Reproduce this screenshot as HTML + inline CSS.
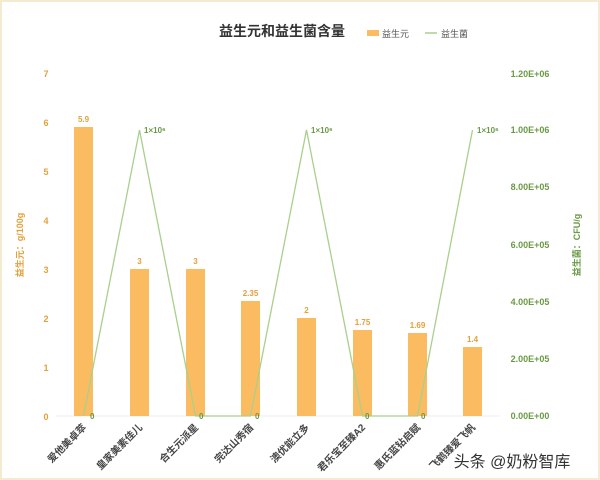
<!DOCTYPE html>
<html><head><meta charset="utf-8"><style>
html,body{margin:0;padding:0;background:#fff}
svg{display:block}
text{font-family:"Liberation Sans","Noto Sans CJK SC",sans-serif}
</style></head><body>
<svg width="600" height="480" viewBox="0 0 600 480">
<rect x="1" y="1" width="598" height="478" fill="#fff" stroke="#f3ead0" stroke-width="2"/>
<text x="282" y="36" font-size="14" font-weight="bold" fill="#333" text-anchor="middle">益生元和益生菌含量</text>
<rect x="367" y="30" width="12" height="6" fill="#fbbc61"/>
<text x="382" y="37" font-size="9" fill="#555">益生元</text>
<line x1="425" y1="33" x2="437" y2="33" stroke="#a8d08d" stroke-width="1.5"/>
<text x="441" y="37" font-size="9" fill="#555">益生菌</text>
<g font-size="9" font-weight="bold" fill="#e2a13c" text-anchor="middle">
<text x="46" y="77">7</text><text x="46" y="126">6</text><text x="46" y="175">5</text><text x="46" y="224">4</text><text x="46" y="273">3</text><text x="46" y="322">2</text><text x="46" y="371">1</text><text x="46" y="420">0</text>
</g>
<text transform="translate(23,245) rotate(-90)" font-size="9" font-weight="bold" fill="#e2a13c" text-anchor="middle">益生元：g/100g</text>
<g font-size="9" font-weight="bold" fill="#6a9a45" text-anchor="middle">
<text x="530" y="77">1.20E+06</text><text x="530" y="133">1.00E+06</text><text x="530" y="190">8.00E+05</text><text x="530" y="248">6.00E+05</text><text x="530" y="305">4.00E+05</text><text x="530" y="362">2.00E+05</text><text x="530" y="419">0.00E+00</text>
</g>
<text transform="translate(580,245) rotate(-90)" font-size="9" font-weight="bold" fill="#6a9a45" text-anchor="middle">益生菌：CFU/g</text>
<line x1="56" y1="416" x2="500" y2="416" stroke="#eee"/>
<g fill="#fbbc61">
<rect x="74" y="127" width="19" height="289"/>
<rect x="130" y="269" width="19" height="147"/>
<rect x="186" y="269" width="19" height="147"/>
<rect x="241" y="301" width="19" height="115"/>
<rect x="297" y="318" width="19" height="98"/>
<rect x="353" y="330" width="19" height="86"/>
<rect x="408" y="333" width="19" height="83"/>
<rect x="463" y="347" width="19" height="69"/>
</g>
<g font-size="8" font-weight="bold" fill="#e2a13c" text-anchor="middle">
<text x="83.5" y="122">5.9</text><text x="139.5" y="264">3</text><text x="195.5" y="264">3</text><text x="250.5" y="296">2.35</text><text x="306.5" y="313">2</text><text x="362.5" y="325">1.75</text><text x="417.5" y="328">1.69</text><text x="472.5" y="342">1.4</text>
</g>
<polyline points="83.5,416 139.5,130 195.5,416 250.5,416 306.5,130 362.5,416 417.5,416 472.5,130" fill="none" stroke="#a8d08d" stroke-width="1.3"/>
<g font-size="8" font-weight="bold" fill="#6a9a45">
<text x="90" y="419">0</text><text x="199" y="419">0</text><text x="255" y="419">0</text><text x="365" y="419">0</text><text x="421" y="419">0</text>
<text x="144" y="133">1×10⁶</text><text x="311" y="133">1×10⁶</text><text x="477" y="133">1×10⁶</text>
</g>
<g font-size="10" font-weight="bold" fill="#444" text-anchor="end">
<text transform="translate(87,428) rotate(-45)">爱他美卓萃</text>
<text transform="translate(143,428) rotate(-45)">皇家美素佳儿</text>
<text transform="translate(199,428) rotate(-45)">合生元派星</text>
<text transform="translate(254,428) rotate(-45)">完达山秀宿</text>
<text transform="translate(310,428) rotate(-45)">澳优能立多</text>
<text transform="translate(366,428) rotate(-45)">君乐宝至臻A2</text>
<text transform="translate(421,428) rotate(-45)">惠氏蓝钻启赋</text>
<text transform="translate(476,428) rotate(-45)">飞鹤臻爱飞帆</text>
</g>
<text x="512" y="467" font-size="16" fill="#333" text-anchor="middle">头条 @奶粉智库</text>
</svg>
</body></html>
